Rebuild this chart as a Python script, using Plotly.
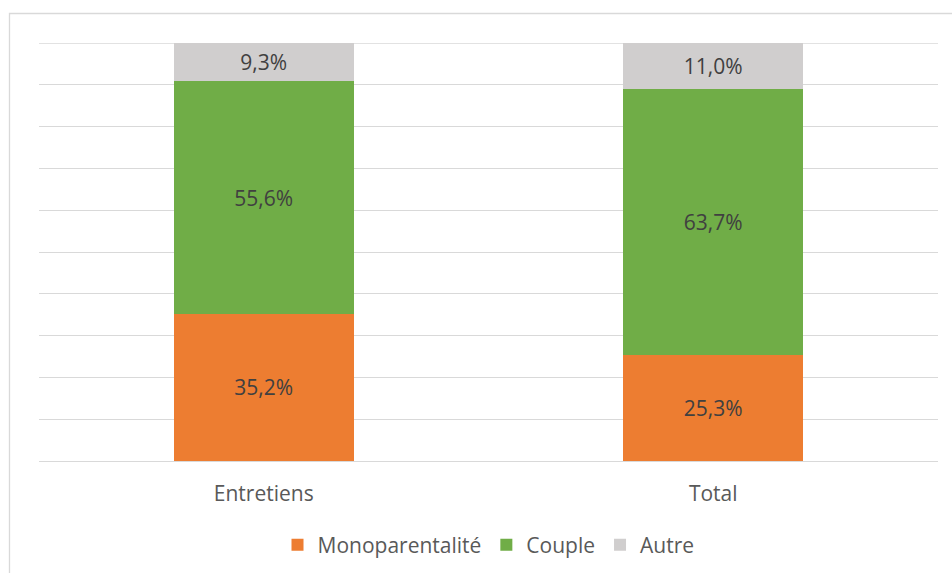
import plotly.graph_objects as go

categories = ["Entretiens", "Total"]
series_names = ["Monoparentalité", "Couple", "Autre"]
mono = [35.2, 25.3]
couple = [55.6, 63.7]
autre = [9.3, 11.0]
colors = ["#ED7D31", "#70AD47", "#D0CECE"]

FONT = "Open Sans"
FS = 21

fig = go.Figure()
for name, vals, col in zip(series_names, [mono, couple, autre], colors):
    fig.add_trace(go.Bar(
        x=categories, y=vals, name=name,
        marker=dict(color=col, line=dict(width=0)),
        text=[f"{v:.1f}%".replace(".", ",") for v in vals],
        textposition="inside", insidetextanchor="middle", textangle=0,
        constraintext="none",
        textfont=dict(family=FONT, size=FS, color="#404040"),
        hoverinfo="skip",
    ))

W, H = 952, 573
L, R, T, B = 39, 14, 43, 112
pw, ph = W - L - R, H - T - B

fig.update_layout(
    width=W, height=H,
    barmode="stack", bargap=0.6,
    margin=dict(l=L, r=R, t=T, b=B, pad=0, autoexpand=False),
    paper_bgcolor="white", plot_bgcolor="white",
    font=dict(family=FONT, size=FS, color="#595959"),
    showlegend=True,
    legend=dict(orientation="h", x=0.5, xanchor="center",
                yref="container", y=(H - 545) / H, yanchor="middle",
                font=dict(family=FONT, size=FS, color="#595959"),
                traceorder="normal", itemclick=False),
    xaxis=dict(showgrid=False, showline=False, ticks="", zeroline=False,
               ticklabelstandoff=18, automargin=False,
               tickfont=dict(family=FONT, size=FS, color="#595959")),
    yaxis=dict(range=[0, 100], dtick=10, showticklabels=False,
               showgrid=True, gridcolor="#D9D9D9", gridwidth=1.3,
               zeroline=True, zerolinecolor="#D9D9D9", zerolinewidth=1.3,
               showline=False, ticks=""),
    shapes=[
        dict(type="rect", xref="paper", yref="paper",
             x0=(9.5 - L) / pw, x1=1.2,
             y0=-0.5, y1=((H - B) - 13.5) / ph,
             line=dict(color="#D9D9D9", width=1.3), layer="below"),
        dict(type="line", xref="paper", yref="y", x0=0, x1=1, y0=100, y1=100,
             line=dict(color="#D9D9D9", width=1.3), layer="below"),
    ],
)

fig.write_html("out.html", config={"displayModeBar": False},
               post_script="document.body.style.margin='0';document.body.style.overflow='hidden';")
